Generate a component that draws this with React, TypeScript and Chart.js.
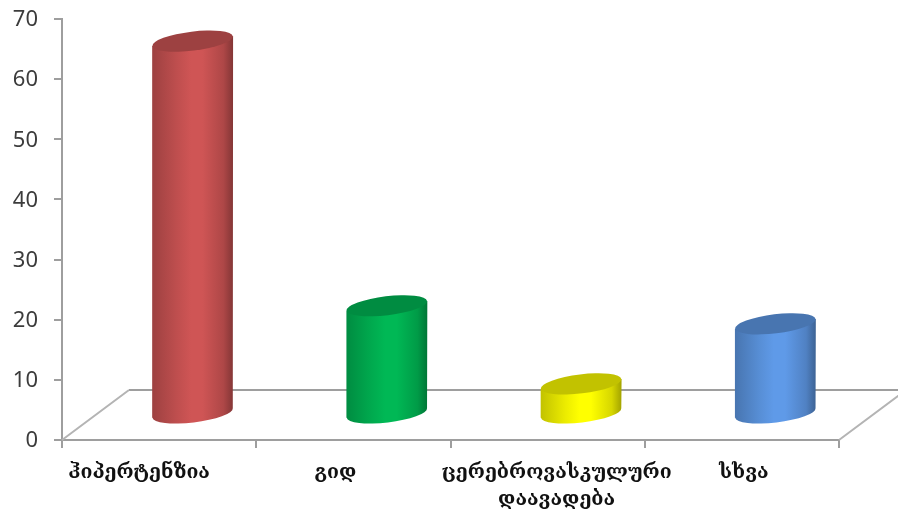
import React, { useEffect, useRef } from "react";
import { Chart, registerables } from "chart.js";

Chart.register(...registerables);

// Chart content
const categories: (string | string[])[] = [
  "ჰიპერტენზია",
  "გიდ",
  ["ცერებროვასკულური", "დაავადება"],
  "სხვა",
];
const shares = [62, 18, 5, 15];
const barColors = ["#CF5555", "#00B855", "#FFFF00", "#5F9AE8"];
const valueTicks = [0, 10, 20, 30, 40, 50, 60, 70];

// Look of the pseudo-3D scene
const AXIS_COLOR = "#9e9e9e";
const TEXT_COLOR = "#3c3c3c";
const FLOOR_DX = 67;
const FLOOR_DY = 50;
const COLUMN_DX = 33.5;
const COLUMN_DY = 26;
const CAP_RY = 9.5;
const CAP_TILT = -0.12;
const labelNudge = [-20, -18, 9, 2];

function shade(hex: string, k: number): string {
  const n = parseInt(hex.slice(1), 16);
  const c = [(n >> 16) & 255, (n >> 8) & 255, n & 255].map((v) => Math.round(v * k));
  return `rgb(${c[0]},${c[1]},${c[2]})`;
}

// Floor of the scene, drawn behind the columns
const floorPlugin = {
  id: "floor",
  beforeDatasetsDraw(chart: any) {
    const { ctx, chartArea, width } = chart;
    const { left, right, bottom } = chartArea;
    ctx.save();
    ctx.strokeStyle = AXIS_COLOR;
    ctx.lineWidth = 2;
    ctx.beginPath();
    ctx.moveTo(left + FLOOR_DX, bottom - FLOOR_DY);
    ctx.lineTo(width, bottom - FLOOR_DY);
    ctx.stroke();
    ctx.strokeStyle = "#b4b4b4";
    ctx.beginPath();
    ctx.moveTo(left, bottom);
    ctx.lineTo(left + FLOOR_DX, bottom - FLOOR_DY);
    ctx.moveTo(right, bottom);
    ctx.lineTo(right + FLOOR_DX, bottom - FLOOR_DY);
    ctx.stroke();
    ctx.restore();
  },
};

// Turns each bar element into a shaded cylinder standing on the floor
const cylinderPlugin = {
  id: "cylinders",
  beforeDatasetDraw(chart: any, args: any) {
    const { ctx } = chart;
    const meta = args.meta;
    const colors = chart.data.datasets[args.index].backgroundColor as string[];
    meta.data.forEach((bar: any, i: number) => {
      const { x, y, base, width } = bar.getProps(["x", "y", "base", "width"], true);
      const cx = x + COLUMN_DX;
      const rx = width / 2;
      const topY = y - COLUMN_DY;
      const baseY = base - COLUMN_DY;
      const rim = rx * Math.sin(-CAP_TILT);
      const color = colors[i];

      const side = ctx.createLinearGradient(cx - rx, 0, cx + rx, 0);
      side.addColorStop(0, shade(color, 0.76));
      side.addColorStop(0.3, shade(color, 0.92));
      side.addColorStop(0.48, color);
      side.addColorStop(0.62, color);
      side.addColorStop(0.88, shade(color, 0.84));
      side.addColorStop(1, shade(color, 0.64));

      ctx.save();
      ctx.fillStyle = side;
      ctx.beginPath();
      ctx.moveTo(cx - rx, topY + rim);
      ctx.lineTo(cx - rx, baseY + rim);
      ctx.ellipse(cx, baseY, rx, CAP_RY, CAP_TILT, Math.PI, 0, true);
      ctx.lineTo(cx + rx, topY - rim);
      ctx.closePath();
      ctx.fill();

      ctx.fillStyle = shade(color, 0.76);
      ctx.beginPath();
      ctx.ellipse(cx, topY, rx, CAP_RY, CAP_TILT, 0, Math.PI * 2);
      ctx.fill();
      ctx.restore();
    });
    return false;
  },
};

// Category names sit off-centre under their ticks, one or two lines each
const categoryLabelPlugin = {
  id: "categoryLabels",
  afterDraw(chart: any) {
    const { ctx } = chart;
    const scale = chart.scales.x;
    ctx.save();
    ctx.font = 'bold 19.5px "DejaVu Serif", "DejaVu Sans"';
    ctx.fillStyle = "#111111";
    ctx.textAlign = "center";
    ctx.textBaseline = "middle";
    categories.forEach((label, i) => {
      const lines = Array.isArray(label) ? label : [label];
      const px = scale.getPixelForValue(i) + labelNudge[i];
      lines.forEach((line, j) => ctx.fillText(line, px, scale.bottom - 39 + j * 27));
    });
    ctx.restore();
  },
};

export default function App() {
  const ref = useRef<HTMLCanvasElement>(null);

  useEffect(() => {
    const chart = new Chart(ref.current as HTMLCanvasElement, {
      type: "bar",
      data: {
        labels: categories as any,
        datasets: [
          {
            data: shares,
            backgroundColor: barColors,
            barPercentage: 1,
            categoryPercentage: 0.4165,
          },
        ],
      },
      options: {
        responsive: false,
        animation: false,
        layout: { padding: { left: 0, top: 19, right: 59, bottom: 0 } },
        plugins: {
          legend: { display: false },
          tooltip: { enabled: false },
          title: { display: false },
        },
        scales: {
          x: {
            grid: {
              drawOnChartArea: false,
              color: AXIS_COLOR,
              lineWidth: 2,
              tickLength: 8,
            },
            border: { color: AXIS_COLOR, width: 2 },
            ticks: { display: false },
            afterFit: (s: any) => {
              s.height = 72;
            },
          },
          y: {
            min: 0,
            max: 70,
            afterBuildTicks: (s: any) => {
              s.ticks = valueTicks.map((value) => ({ value }));
            },
            grid: {
              drawOnChartArea: false,
              color: AXIS_COLOR,
              lineWidth: 2,
              tickLength: 8,
            },
            border: { color: AXIS_COLOR, width: 2 },
            ticks: {
              color: TEXT_COLOR,
              padding: 16,
              labelOffset: 1,
              font: { family: '"Noto Sans"', size: 22 },
            },
            afterFit: (s: any) => {
              s.width = 62;
              s.paddingTop = 0;
              s.paddingBottom = 0;
            },
          },
        },
      },
      plugins: [floorPlugin, cylinderPlugin, categoryLabelPlugin],
    } as any);
    return () => chart.destroy();
  }, []);

  return (
    <div style={{ position: "absolute", left: 0, top: 0, background: "#ffffff" }}>
      <canvas ref={ref} width={898} height={512} style={{ display: "block" }} />
    </div>
  );
}
